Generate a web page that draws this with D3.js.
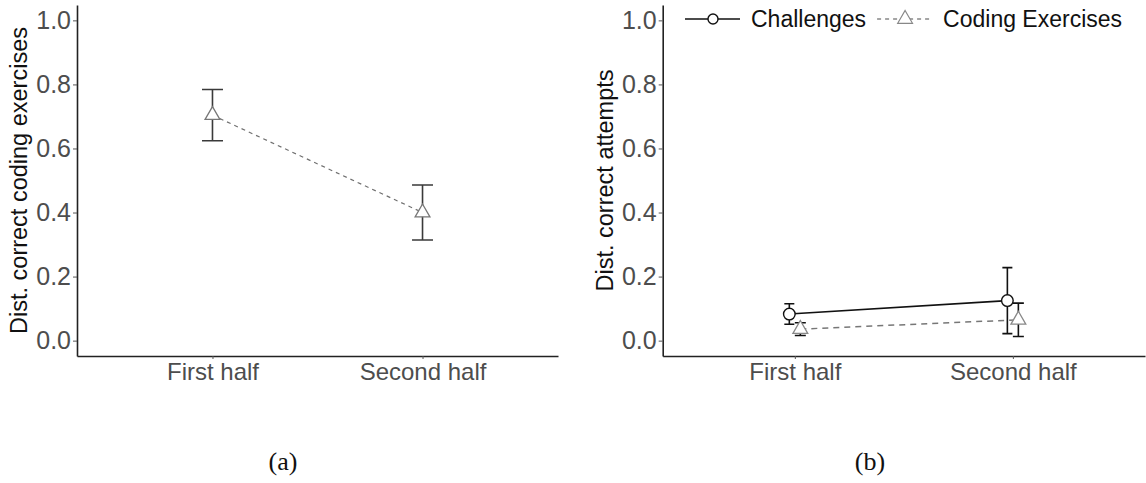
<!DOCTYPE html>
<html lang="en">
<head>
<meta charset="utf-8">
<title>Dist. correct</title>
<script src="https://d3js.org/d3.v7.min.js"></script>
<style>
  body { margin: 0; background: white; }
  .tick text { font-family: "Liberation Sans", Arial, sans-serif; font-size: 24px; fill: #4d4d4d; }
  .yax .tick text { font-size: 25px; }
  .tick line { stroke: #555; }
  .domain { stroke: #222; stroke-width: 1.6px; }
  .ytitle { font-family: "Liberation Sans", Arial, sans-serif; font-size: 23.5px; fill: #111; }
  .legend text { font-family: "Liberation Sans", Arial, sans-serif; font-size: 23px; fill: #111; }
  .caption { font-family: "Liberation Serif", "DejaVu Serif", serif; font-size: 26px; fill: #111; }
</style>
</head>
<body>
<div id="main"></div>
<script>
var width = 1146, height = 483;

// data
var halves = ["First half", "Second half"];
var yTicks = [0, 0.2, 0.4, 0.6, 0.8, 1.0];
// panel (a): coding exercises
var exMean = [0.704, 0.40];
var exErr = [0.080, 0.086];
// panel (b): challenges and coding exercises
var chMean = [0.083, 0.125];
var chErr = [0.032, 0.103];
var ceMean = [0.036, 0.065];
var ceErr = [0.020, 0.052];
var seriesNames = ["Challenges", "Coding Exercises"];

var svg = d3.select("#main").append("svg")
  .attr("width", width).attr("height", height);

var y = d3.scaleLinear().domain([-0.048, 1.048]).range([356, 5]);
var tri = d3.symbol().type(d3.symbolTriangle).size(95);

function drawAxes(x, x0, title) {
  svg.append("g").attr("class", "yax").attr("transform", "translate(" + x0 + ",0)")
    .call(d3.axisLeft(y).tickValues(yTicks).tickFormat(d3.format(".1f"))
      .tickSize(4).tickSizeOuter(0).tickPadding(2));
  svg.append("g").attr("transform", "translate(0,356)")
    .call(d3.axisBottom(x).tickSize(3).tickSizeOuter(0).tickPadding(4));
  svg.append("text").attr("class", "ytitle")
    .attr("transform", "translate(" + (x0 - 58) + "," + ((y.range()[0] + y.range()[1]) / 2) + ") rotate(-90)")
    .attr("text-anchor", "middle").attr("dominant-baseline", "central")
    .text(title);
}

function drawSeries(x, off, mean, err, opt) {
  var pts = halves.map(function (h, i) { return {x: x(h) + off, m: mean[i], e: err[i]}; });
  var g = svg.append("g");
  g.selectAll(".eb").data(pts).enter().append("path")
    .attr("fill", "none").attr("stroke", opt.barColor).attr("stroke-width", 1.6)
    .attr("d", function (d) {
      var hw = opt.cap / 2, t = y(d.m + d.e), b = y(d.m - d.e);
      return "M" + (d.x - hw) + "," + t + "H" + (d.x + hw) +
             "M" + d.x + "," + t + "V" + b +
             "M" + (d.x - hw) + "," + b + "H" + (d.x + hw);
    });
  g.append("path").datum(pts)
    .attr("fill", "none").attr("stroke", opt.lineColor).attr("stroke-width", opt.lw)
    .attr("stroke-dasharray", opt.dash)
    .attr("d", d3.line().x(function (d) { return d.x; }).y(function (d) { return y(d.m); }));
  if (opt.shape === "circle") {
    g.selectAll("circle").data(pts).enter().append("circle")
      .attr("cx", function (d) { return d.x; }).attr("cy", function (d) { return y(d.m); })
      .attr("r", 5.8).attr("fill", "white").attr("stroke", opt.pointColor).attr("stroke-width", 1.4);
  } else {
    g.selectAll(".pt").data(pts).enter().append("path")
      .attr("transform", function (d) { return "translate(" + d.x + "," + y(d.m) + ")"; })
      .attr("d", tri).attr("fill", "white").attr("stroke", opt.pointColor).attr("stroke-width", 1.3);
  }
}

// panel (a)
var xa = d3.scalePoint().domain(halves).range([77, 558]).padding(0.645);
drawAxes(xa, 77, "Dist. correct coding exercises");
drawSeries(xa, 0, exMean, exErr, {barColor: "#3a3a3a", lineColor: "#707070", lw: 1.2, dash: "4,4",
  pointColor: "#777", shape: "triangle", cap: 21});

// panel (b)
var xb = d3.scalePoint().domain(halves).range([662.7, 1145]).padding(0.606);
drawAxes(xb, 662.7, "Dist. correct attempts");
drawSeries(xb, 5.5, ceMean, ceErr, {barColor: "#111", lineColor: "#777", lw: 1.5, dash: "6,5",
  pointColor: "#888", shape: "triangle", cap: 11});
drawSeries(xb, -5.5, chMean, chErr, {barColor: "#111", lineColor: "#111", lw: 1.6, dash: null,
  pointColor: "#111", shape: "circle", cap: 10});

// legend
var leg = svg.append("g").attr("class", "legend");
var lx = 685, ly = 19;
seriesNames.forEach(function (name, i) {
  var k = leg.append("g");
  k.append("line").attr("x1", lx).attr("x2", lx + 55).attr("y1", ly).attr("y2", ly)
    .attr("stroke", i === 0 ? "#111" : "#888").attr("stroke-width", i === 0 ? 1.6 : 1.3)
    .attr("stroke-dasharray", i === 0 ? null : "4,4");
  if (i === 0) {
    k.append("circle").attr("cx", lx + 28).attr("cy", ly).attr("r", 5)
      .attr("fill", "white").attr("stroke", "#111").attr("stroke-width", 1.4);
  } else {
    k.append("path").attr("transform", "translate(" + (lx + 28) + "," + ly + ")")
      .attr("d", tri).attr("fill", "white").attr("stroke", "#888").attr("stroke-width", 1.2);
  }
  var t = k.append("text").attr("x", lx + 66).attr("y", ly).attr("dy", "0.36em").text(name);
  lx = lx + 66 + t.node().getComputedTextLength() + 11;
});

// captions
svg.append("text").attr("class", "caption").attr("x", 283).attr("y", 470)
  .attr("text-anchor", "middle").text("(a)");
svg.append("text").attr("class", "caption").attr("x", 870).attr("y", 470)
  .attr("text-anchor", "middle").text("(b)");
</script>
</body>
</html>
